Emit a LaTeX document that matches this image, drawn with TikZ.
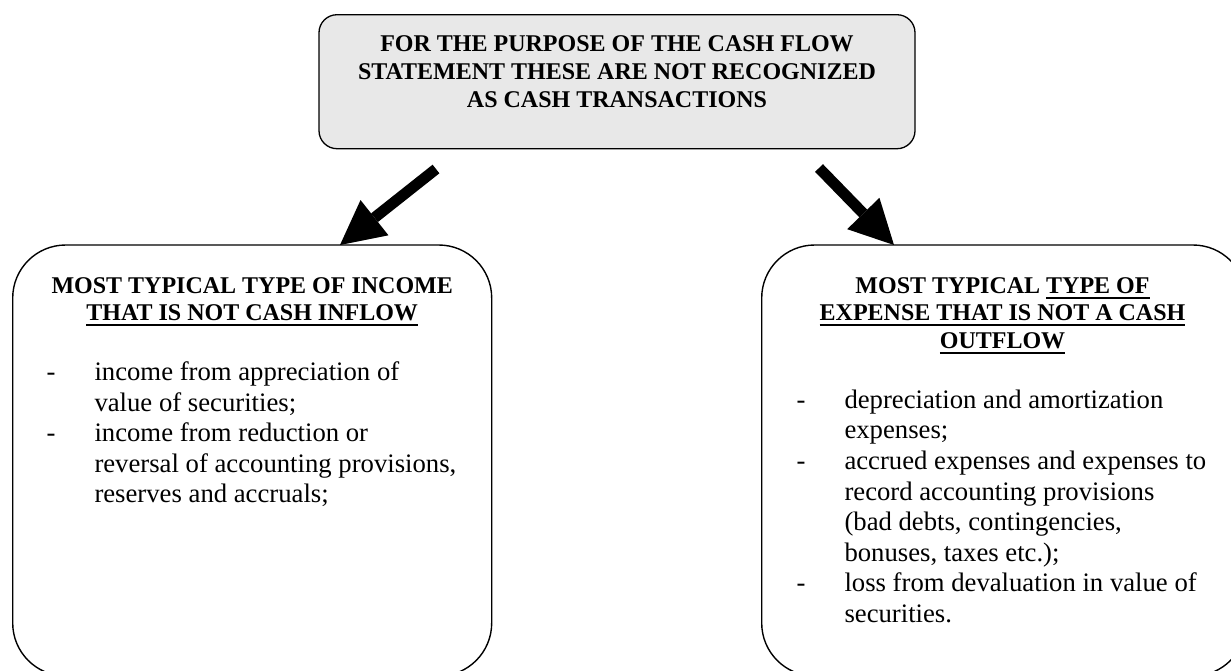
\documentclass[tikz,border=0pt]{standalone}
\usepackage{fontspec}
\setmainfont{Liberation Serif}
\usetikzlibrary{arrows.meta}
\definecolor{boxgray}{RGB}{232,232,232}
\newcommand\myul[1]{\setbox0\hbox{#1}\rlap{\rule[-5.5pt]{\wd0}{1.8pt}}\box0}
\begin{document}
\begin{tikzpicture}[x=1pt,y=-1pt,
  frame/.style={draw=black, line width=1.4pt, rounded corners=53pt, inner sep=0pt, outer sep=0pt, anchor=north west},
  head/.style={inner sep=0pt, outer sep=0pt, anchor=base, font=\fontsize{24}{27.5}\selectfont\bfseries},
  body/.style={inner sep=0pt, outer sep=0pt, anchor=base west, font=\fontsize{26.7}{30.6}\selectfont},
  bigarrow/.style={line width=11pt, -{Triangle[length=44pt,width=45pt,line width=0pt]}}]
\useasboundingbox (0,0) rectangle (1231,670);
\begin{scope}
\clip (0,0) rectangle (1231,670);
\node[frame, fill=boxgray, rounded corners=18pt, line width=1.3pt, minimum width=596pt, minimum height=134pt] (top) at (319,14.7) {};
\node[frame, minimum width=479pt, minimum height=431pt] (left) at (12.7,245) {};
\node[frame, minimum width=484.3pt, minimum height=431pt] (right) at (761.7,245) {};
\end{scope}
% arrows
\coordinate (la) at (436,169);
\coordinate (lt) at (340,245);
\coordinate (ra) at (819,168);
\coordinate (rt) at (894,245);
\draw[bigarrow] (la) -- (lt);
\draw[bigarrow] (ra) -- (rt);
% top text
\node[head] (t1) at (617,51.7) {FOR THE PURPOSE OF THE CASH FLOW};
\node[head] (t2) at (617,79.3) {STATEMENT THESE ARE NOT RECOGNIZED};
\node[head] (t3) at (617,107) {AS CASH TRANSACTIONS};
% left box
\node[head] (lh1) at (252.2,293.3) {MOST TYPICAL TYPE OF INCOME};
\node[head] (lh2) at (252.2,320.7) {\myul{THAT IS NOT CASH INFLOW}};
\node[body] (ld1) at (46.5,380.5) {-};
\node[body] (l1) at (94.5,380.5) {income from appreciation of};
\node[body] (l2) at (94.5,411.1) {value of securities;};
\node[body] (ld2) at (46.5,441.7) {-};
\node[body] (l3) at (94.5,441.7) {income from reduction or};
\node[body] (l4) at (94.5,472.3) {reversal of accounting provisions,};
\node[body] (l5) at (94.5,502.9) {reserves and accruals;};
% right box
\node[head] (rh1) at (1002.5,293.3) {MOST TYPICAL \myul{TYPE OF}};
\node[head] (rh2) at (1002.5,320.7) {\myul{EXPENSE THAT IS NOT A CASH}};
\node[head] (rh3) at (1002.5,348.3) {\myul{OUTFLOW}};
\node[body] (rd1) at (796.5,408.3) {-};
\node[body] (r1) at (844.5,408.3) {depreciation and amortization};
\node[body] (r2) at (844.5,438.9) {expenses;};
\node[body] (rd2) at (796.5,469.5) {-};
\node[body] (r3) at (844.5,469.5) {accrued expenses and expenses to};
\node[body] (r4) at (844.5,500.1) {record accounting provisions};
\node[body] (r5) at (844.5,530.7) {(bad debts, contingencies,};
\node[body] (r6) at (844.5,561.3) {bonuses, taxes etc.);};
\node[body] (rd3) at (796.5,591.9) {-};
\node[body] (r7) at (844.5,591.9) {loss from devaluation in value of};
\node[body] (r8) at (844.5,622.5) {securities.};
\end{tikzpicture}
\end{document}
